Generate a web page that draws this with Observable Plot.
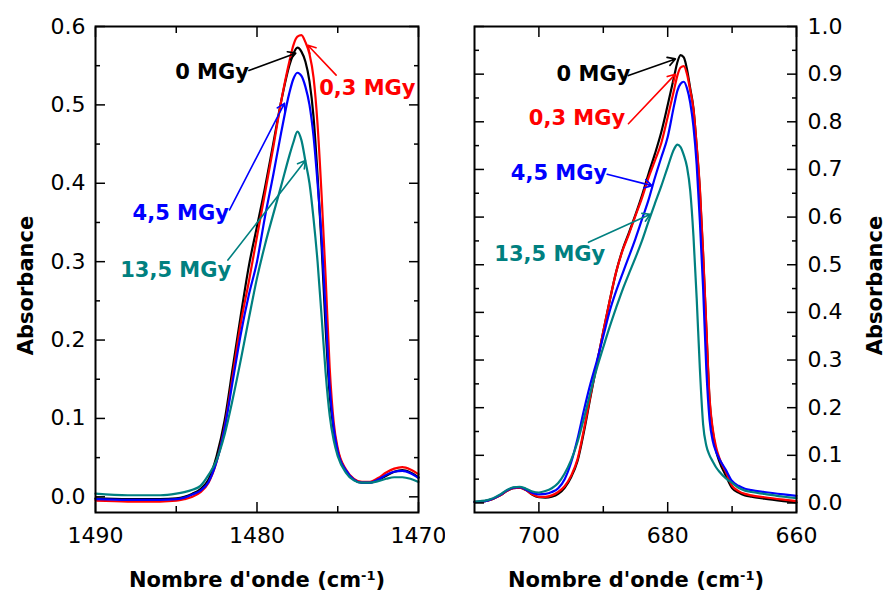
<!DOCTYPE html>
<html><head><meta charset="utf-8">
<script src="https://cdn.jsdelivr.net/npm/d3@7"></script>
<script src="https://cdn.jsdelivr.net/npm/@observablehq/plot@0.6"></script>
<style>
html,body{margin:0;padding:0;background:#fff;}
#chart{display:flex;width:889px;height:594px;}
#chart svg{overflow:visible;}
</style></head><body><div id="chart"></div>
<script>
// ---- series identity ----
const doses = ["0 MGy", "0,3 MGy", "4,5 MGy", "13,5 MGy"];
const colors = ["#000000", "#ff0000", "#0000ff", "#008080"];

// ---- left panel: wavenumber (cm-1) and absorbance ----
const leftWn = [1490, 1488, 1486, 1485, 1484.5, 1484, 1483.5, 1483, 1482.5, 1482, 1481.5, 1481, 1480.5, 1480, 1479.5, 1479, 1478.5, 1478, 1477.75, 1477.5, 1477.25, 1477, 1476.75, 1476.5, 1476.25, 1476, 1475.75, 1475.5, 1475.25, 1475, 1474.5, 1474, 1473.5, 1473, 1472.5, 1472, 1471.5, 1471, 1470.5, 1470];
const leftA0 = [-0.002, -0.003, -0.003, -0.002, 0.000, 0.004, 0.010, 0.022, 0.052, 0.098, 0.165, 0.232, 0.295, 0.345, 0.395, 0.45, 0.505, 0.55, 0.565, 0.573, 0.568, 0.555, 0.530, 0.485, 0.41, 0.32, 0.215, 0.13, 0.085, 0.058, 0.033, 0.022, 0.018, 0.018, 0.021, 0.027, 0.032, 0.034, 0.031, 0.025];
const leftA03 = [-0.005, -0.006, -0.006, -0.005, -0.003, 0.000, 0.006, 0.018, 0.045, 0.09, 0.155, 0.222, 0.275, 0.332, 0.388, 0.445, 0.505, 0.555, 0.576, 0.587, 0.589, 0.580, 0.565, 0.535, 0.475, 0.385, 0.28, 0.165, 0.095, 0.062, 0.035, 0.023, 0.019, 0.019, 0.024, 0.031, 0.036, 0.038, 0.035, 0.029];
const leftA45 = [-0.003, -0.004, -0.004, -0.003, -0.001, 0.003, 0.008, 0.019, 0.045, 0.088, 0.148, 0.208, 0.258, 0.30, 0.358, 0.41, 0.465, 0.515, 0.533, 0.541, 0.537, 0.523, 0.50, 0.46, 0.40, 0.33, 0.235, 0.14, 0.088, 0.058, 0.034, 0.022, 0.018, 0.018, 0.022, 0.028, 0.032, 0.033, 0.030, 0.024];
const leftA135 = [0.004, 0.002, 0.002, 0.004, 0.006, 0.009, 0.014, 0.028, 0.047, 0.08, 0.125, 0.175, 0.228, 0.279, 0.322, 0.36, 0.397, 0.435, 0.452, 0.466, 0.455, 0.428, 0.40, 0.355, 0.30, 0.23, 0.158, 0.104, 0.072, 0.052, 0.031, 0.021, 0.018, 0.018, 0.02, 0.023, 0.025, 0.025, 0.023, 0.019];

// ---- right panel ----
const rightWn = [710, 708, 706, 705, 704, 703, 702, 701, 700, 699, 698, 697, 696, 695, 694, 693, 692, 691, 690, 689, 688, 687, 686, 685, 684, 683, 682, 681, 680, 679, 678.5, 678, 677.5, 677, 676.5, 676, 675.5, 675, 674.5, 674, 673.5, 673, 672.5, 672, 671, 670, 669, 668, 667, 665, 662, 660];
const rightA0 = [0.002, 0.005, 0.016, 0.025, 0.031, 0.032, 0.027, 0.017, 0.012, 0.011, 0.013, 0.019, 0.032, 0.054, 0.088, 0.15, 0.222, 0.292, 0.36, 0.425, 0.485, 0.532, 0.568, 0.605, 0.645, 0.69, 0.732, 0.778, 0.835, 0.895, 0.925, 0.940, 0.935, 0.91, 0.87, 0.828, 0.748, 0.655, 0.52, 0.365, 0.215, 0.15, 0.11, 0.088, 0.058, 0.031, 0.022, 0.016, 0.013, 0.009, 0.004, 0.001];
const rightA03 = [0.002, 0.005, 0.016, 0.025, 0.031, 0.032, 0.027, 0.018, 0.013, 0.013, 0.016, 0.023, 0.035, 0.057, 0.092, 0.155, 0.225, 0.292, 0.36, 0.425, 0.485, 0.53, 0.565, 0.603, 0.64, 0.682, 0.718, 0.755, 0.81, 0.868, 0.897, 0.914, 0.917, 0.90, 0.866, 0.826, 0.75, 0.66, 0.525, 0.37, 0.22, 0.155, 0.118, 0.095, 0.066, 0.036, 0.025, 0.019, 0.016, 0.012, 0.007, 0.004];
const rightA45 = [0.002, 0.005, 0.017, 0.026, 0.032, 0.033, 0.028, 0.021, 0.018, 0.019, 0.023, 0.031, 0.05, 0.085, 0.135, 0.195, 0.25, 0.298, 0.35, 0.403, 0.445, 0.482, 0.518, 0.555, 0.595, 0.635, 0.682, 0.725, 0.768, 0.835, 0.865, 0.88, 0.884, 0.87, 0.84, 0.79, 0.71, 0.59, 0.45, 0.28, 0.175, 0.13, 0.108, 0.093, 0.07, 0.046, 0.036, 0.030, 0.027, 0.023, 0.018, 0.015];
const rightA135 = [0.003, 0.006, 0.018, 0.027, 0.033, 0.034, 0.030, 0.024, 0.022, 0.025, 0.031, 0.042, 0.062, 0.09, 0.128, 0.178, 0.232, 0.283, 0.327, 0.37, 0.41, 0.448, 0.482, 0.515, 0.55, 0.59, 0.628, 0.665, 0.705, 0.743, 0.752, 0.747, 0.73, 0.705, 0.655, 0.56, 0.43, 0.28, 0.165, 0.12, 0.10, 0.087, 0.075, 0.066, 0.052, 0.042, 0.032, 0.026, 0.023, 0.019, 0.013, 0.010];

// ---- ticks ----
const leftXMajor = [1490, 1480, 1470];
const leftXMinor = [1485, 1475];
const leftYMajor = [0, 0.1, 0.2, 0.3, 0.4, 0.5, 0.6];
const leftYMinor = [0.05, 0.15, 0.25, 0.35, 0.45, 0.55];
const rightXMajor = [700, 680, 660];
const rightXMinor = [690, 670];
const rightYMajor = [0, 0.1, 0.2, 0.3, 0.4, 0.5, 0.6, 0.7, 0.8, 0.9, 1.0];
const rightYMinor = [0.05, 0.15, 0.25, 0.35, 0.45, 0.55, 0.65, 0.75, 0.85, 0.95];

// ---- annotations (data coordinates) ----
const leftLabelX = [1480.5, 1476.15, 1481.74, 1481.6];
const leftLabelY = [0.541, 0.521, 0.362, 0.289];
const leftLabelAnchor = ["end", "start", "end", "end"];
const leftArrowX1 = [1480.5, 1475.1, 1481.7, 1481.8];
const leftArrowY1 = [0.544, 0.538, 0.366, 0.302];
const leftArrowX2 = [1477.6, 1476.85, 1478.3, 1477.0];
const leftArrowY2 = [0.566, 0.576, 0.502, 0.429];

const rightLabelX = [685.8, 686.6, 689.4, 689.7];
const rightLabelY = [0.899, 0.807, 0.693, 0.523];
const rightLabelAnchor = ["end", "end", "end", "end"];
const rightArrowX1 = [686.1, 686.1, 689.4, 692.3];
const rightArrowY1 = [0.897, 0.796, 0.690, 0.547];
const rightArrowX2 = [678.8, 678.8, 682.45, 682.7];
const rightArrowY2 = [0.932, 0.90, 0.666, 0.606];

const FONT = "'DejaVu Sans', sans-serif";

function panel(cfg) {
  const series = cfg.series;
  const marks = [];
  series.forEach((ys, k) => {
    marks.push(Plot.line(cfg.xs.map((x, i) => ({x, y: ys[i]})), {
      x: "x", y: "y", stroke: colors[k], strokeWidth: 2.2, curve: "monotone-x"
    }));
  });
  doses.forEach((d, k) => {
    marks.push(Plot.arrow([{x1: cfg.ax1[k], y1: cfg.ay1[k], x2: cfg.ax2[k], y2: cfg.ay2[k]}], {
      x1: "x1", y1: "y1", x2: "x2", y2: "y2", stroke: colors[k], strokeWidth: 1.6, headLength: 8
    }));
    marks.push(Plot.text([{x: cfg.lx[k], y: cfg.ly[k], t: d}], {
      x: "x", y: "y", text: "t", fill: colors[k], fontWeight: "bold", fontSize: 21,
      textAnchor: cfg.la[k], fontFamily: FONT
    }));
  });
  const blank = () => "";
  // inward ticks on all four sides
  for (const [ticks, size] of [[cfg.xMajor, 10], [cfg.xMinor, 6]]) {
    marks.push(Plot.axisX({anchor: "bottom", ticks, tickSize: size, dy: -size, tickFormat: blank, label: null, strokeWidth: 1.5}));
    marks.push(Plot.axisX({anchor: "top", ticks, tickSize: size, dy: size, tickFormat: blank, label: null, strokeWidth: 1.5}));
  }
  for (const [ticks, size] of [[cfg.yMajor, 10], [cfg.yMinor, 5]]) {
    marks.push(Plot.axisY({anchor: "left", ticks, tickSize: size, dx: size, tickFormat: blank, label: null, strokeWidth: 1.5}));
    marks.push(Plot.axisY({anchor: "right", ticks, tickSize: size, dx: -size, tickFormat: blank, label: null, strokeWidth: 1.5}));
  }
  // tick labels
  marks.push(Plot.axisX({anchor: "bottom", ticks: cfg.xMajor, tickSize: 0, tickPadding: 15, tickFormat: d3.format("d"), label: null, fontSize: 22, fontFamily: FONT}));
  marks.push(Plot.axisY({anchor: cfg.yAnchor, ticks: cfg.yMajor, tickSize: 0, tickPadding: cfg.yAnchor === "left" ? 10 : 11, tickFormat: d3.format(".1f"), label: null, fontSize: 22, fontFamily: FONT}));
  marks.push(Plot.frame({stroke: "black", strokeWidth: 2}));

  const svg = Plot.plot({
    width: cfg.width, height: 594,
    marginLeft: cfg.marginLeft, marginRight: cfg.marginRight, marginTop: 26, marginBottom: 82,
    x: {domain: cfg.xDomain},
    y: {domain: cfg.yDomain},
    style: {fontFamily: FONT, fontSize: "22px", color: "black", background: "white", overflow: "visible"},
    marks
  });
  const s = d3.select(svg);
  s.append("text")
    .attr("transform", `translate(${cfg.yTitleX},285.5) rotate(-90)`)
    .attr("text-anchor", "middle").attr("font-weight", "bold").attr("font-size", 21)
    .attr("font-family", FONT).attr("fill", "black").text("Absorbance");
  const t = s.append("text")
    .attr("x", cfg.xTitleX).attr("y", 587)
    .attr("text-anchor", "middle").attr("font-weight", "bold").attr("font-size", 21)
    .attr("font-family", FONT).attr("fill", "black");
  t.append("tspan").text("Nombre d'onde (cm");
  t.append("tspan").attr("dy", -7).attr("font-size", 13).text("-1");
  t.append("tspan").attr("dy", 7).text(")");
  return svg;
}

const chart = document.getElementById("chart");
chart.appendChild(panel({
  width: 445, marginLeft: 95, marginRight: 27,
  xs: leftWn, series: [leftA0, leftA03, leftA45, leftA135],
  xDomain: [1490, 1470], yDomain: [-0.02, 0.6],
  xMajor: leftXMajor, xMinor: leftXMinor, yMajor: leftYMajor, yMinor: leftYMinor,
  yAnchor: "left",
  lx: leftLabelX, ly: leftLabelY, la: leftLabelAnchor,
  ax1: leftArrowX1, ay1: leftArrowY1, ax2: leftArrowX2, ay2: leftArrowY2,
  yTitleX: 33, xTitleX: 257
}));
chart.appendChild(panel({
  width: 444, marginLeft: 29, marginRight: 93,
  xs: rightWn, series: [rightA0, rightA03, rightA45, rightA135],
  xDomain: [710, 660], yDomain: [-0.02, 1.0],
  xMajor: rightXMajor, xMinor: rightXMinor, yMajor: rightYMajor, yMinor: rightYMinor,
  yAnchor: "right",
  lx: rightLabelX, ly: rightLabelY, la: rightLabelAnchor,
  ax1: rightArrowX1, ay1: rightArrowY1, ax2: rightArrowX2, ay2: rightArrowY2,
  yTitleX: 437, xTitleX: 191
}));
</script></body></html>
